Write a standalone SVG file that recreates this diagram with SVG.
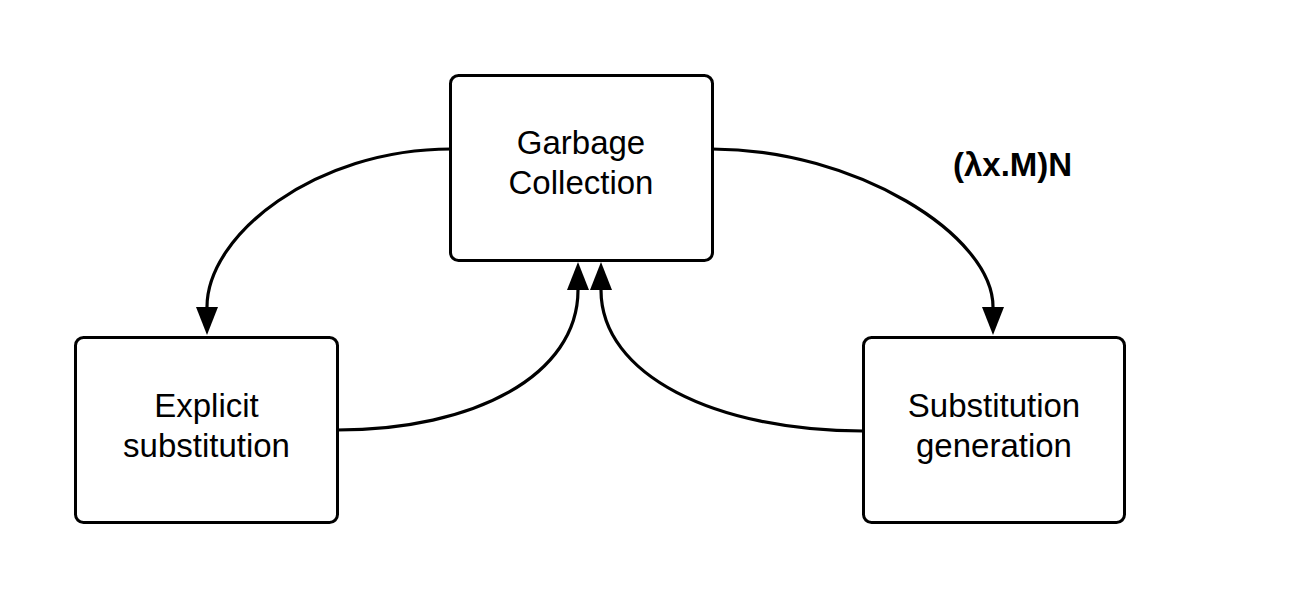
<svg xmlns="http://www.w3.org/2000/svg" width="1313" height="600" viewBox="0 0 1313 600">
  <defs>
    <style>
      .box { fill: #ffffff; stroke: #000000; stroke-width: 3; }
      .lbl { font-family: "Liberation Sans", Arial, sans-serif; font-size: 33px; fill: #000000; text-anchor: middle; }
      .edge { fill: none; stroke: #000000; stroke-width: 3.2; }
      .elbl { font-family: "Liberation Sans", Arial, sans-serif; font-size: 33px; font-weight: bold; fill: #000000; }
    </style>
    <marker id="arrow" viewBox="0 0 28 22" refX="0" refY="11" markerWidth="28" markerHeight="22" markerUnits="userSpaceOnUse" orient="auto">
      <path d="M0,0 L28,11 L0,22 Z" fill="#000000"/>
    </marker>
  </defs>
  <rect width="1313" height="600" fill="#ffffff"/>

  <g id="connectors">
    <path class="edge" d="M451,149 C 315,149 207,235 207,307" marker-end="url(#arrow)"/>
    <path class="edge" d="M712,149 C 855,149 993,235 993,307" marker-end="url(#arrow)"/>
    <path class="edge" d="M337,430 C 475,430 578,375 578,290" marker-end="url(#arrow)"/>
    <path class="edge" d="M863,431 C 715,431 601,375 601,290" marker-end="url(#arrow)"/>
    <text class="elbl" x="953" y="176">(λx.M)N</text>
  </g>

  <g id="garbage-collection">
    <rect class="box" x="450.5" y="75.5" width="262" height="185" rx="8" ry="8"/>
    <text class="lbl" x="581" y="154">Garbage</text>
    <text class="lbl" x="581" y="194">Collection</text>
  </g>

  <g id="explicit-substitution">
    <rect class="box" x="75.5" y="337.5" width="262" height="185" rx="8" ry="8"/>
    <text class="lbl" x="206.5" y="417">Explicit</text>
    <text class="lbl" x="206.5" y="457">substitution</text>
  </g>

  <g id="substitution-generation">
    <rect class="box" x="863.5" y="337.5" width="261" height="185" rx="8" ry="8"/>
    <text class="lbl" x="994" y="417">Substitution</text>
    <text class="lbl" x="994" y="457">generation</text>
  </g>
</svg>
